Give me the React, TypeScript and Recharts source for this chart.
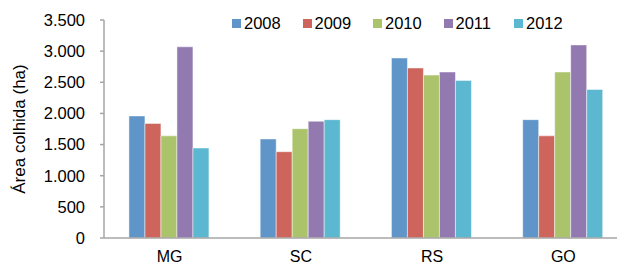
import React from 'react';
import { BarChart, Bar, XAxis, YAxis, Legend } from 'recharts';

const categories = ['MG', 'SC', 'RS', 'GO'];
const years = ['2008', '2009', '2010', '2011', '2012'];
const v2008 = [1960, 1590, 2890, 1900];
const v2009 = [1840, 1385, 2730, 1640];
const v2010 = [1640, 1755, 2615, 2665];
const v2011 = [3070, 1875, 2665, 3100];
const v2012 = [1445, 1900, 2530, 2385];
const yTicks = [0, 500, 1000, 1500, 2000, 2500, 3000, 3500];
const colors = ['#5F95C9', '#CD655D', '#ABC46B', '#927AB1', '#5CB8D1'];
const yTitle = 'Área colhida (ha)';

const seriesValues = [v2008, v2009, v2010, v2011, v2012];
const data = categories.map((c, i) => {
  const row: Record<string, string | number> = { cat: c };
  years.forEach((y, j) => {
    row[y] = seriesValues[j][i];
  });
  return row;
});

const fmt = (v: number) =>
  v >= 1000 ? `${Math.floor(v / 1000)}.${String(v % 1000).padStart(3, '0')}` : String(v);

const FONT = '"Liberation Sans", Arial, sans-serif';

const renderLegend = (props: any) => {
  const payload = props.payload || [];
  return (
    <div style={{ display: 'flex', fontFamily: FONT, fontSize: 16.5, color: '#000', lineHeight: '18px' }}>
      {payload.map((p: any) => (
        <div key={p.value} style={{ width: 70.5, display: 'flex', alignItems: 'center' }}>
          <span style={{ display: 'inline-block', width: 9, height: 9, background: p.color, marginRight: 3 }} />
          <span>{p.value}</span>
        </div>
      ))}
    </div>
  );
};

export default function App() {
  return (
    <div style={{ position: 'absolute', left: 0, top: 0, width: 617, height: 266, overflow: 'hidden', background: '#fff' }}>
      <BarChart
        width={629}
        height={266}
        data={data}
        margin={{ top: 20, right: 0, left: 0, bottom: 0 }}
        barCategoryGap="19%"
        barGap={0}
      >
        <XAxis
          dataKey="cat"
          height={28}
          tickLine={false}
          tickSize={0}
          tickMargin={13}
          axisLine={{ stroke: '#A6A6A6', strokeWidth: 1.5 }}
          tick={{ fill: '#000', fontSize: 16, fontFamily: FONT }}
        />
        <YAxis
          domain={[0, 3500]}
          ticks={yTicks}
          interval={0}
          width={104}
          tickSize={4}
          tickMargin={15}
          tickFormatter={fmt}
          axisLine={{ stroke: '#A6A6A6', strokeWidth: 1.5 }}
          tickLine={{ stroke: '#A6A6A6', strokeWidth: 1.5 }}
          tick={{ fill: '#000', fontSize: 16.5, fontFamily: FONT }}
          label={{
            value: yTitle,
            angle: -90,
            position: 'insideLeft',
            offset: 19,
            style: { textAnchor: 'middle', fontSize: 17, fontFamily: FONT, fill: '#000' },
          }}
        />
        <Legend
          layout="vertical"
          align="center"
          verticalAlign="middle"
          content={renderLegend}
          wrapperStyle={{ position: 'absolute', left: 232, top: 14, width: 370, height: 20 }}
        />
        {years.map((y, j) => (
          <Bar
            key={y}
            dataKey={y}
            name={y}
            fill={colors[j]}
            stroke="#ffffff"
            strokeOpacity={0.6}
            strokeWidth={0.8}
            isAnimationActive={false}
          />
        ))}
      </BarChart>
    </div>
  );
}
